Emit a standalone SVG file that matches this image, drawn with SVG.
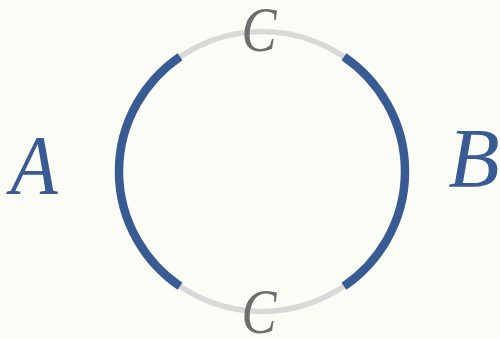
<svg xmlns="http://www.w3.org/2000/svg" width="500" height="338" viewBox="0 0 500 338">
<style>
.lbl{font-family:"Liberation Serif","DejaVu Serif",serif;font-style:italic;text-anchor:middle}
.ab{fill:#385b93;font-size:84px}
.c{fill:#6e6e6e;font-size:64px}
.gray{fill:none;stroke:#d9d9d9;stroke-width:5.5}
.blue{fill:none;stroke:#385b93;stroke-width:8.5;stroke-linecap:butt}
</style>
<rect width="500" height="338" fill="#fcfcf7"/>
<g id="connectors">
<ellipse class="gray" cx="262" cy="171.5" rx="143" ry="140"/>
<path class="blue" d="M344 56.8 A143 140 0 0 1 344 286.2"/>
<path class="blue" d="M180 56.8 A143 140 0 0 0 180 286.2"/>
</g>
<g id="nodeA"><text class="lbl ab" transform="translate(34,194) scale(0.92,1)">A</text></g>
<g id="nodeB"><text class="lbl ab" x="474" y="187">B</text></g>
<g id="nodeC1"><text class="lbl c" transform="translate(259,51) scale(0.82,1)">C</text></g>
<g id="nodeC2"><text class="lbl c" transform="translate(259,333) scale(0.82,1)">C</text></g>
</svg>
